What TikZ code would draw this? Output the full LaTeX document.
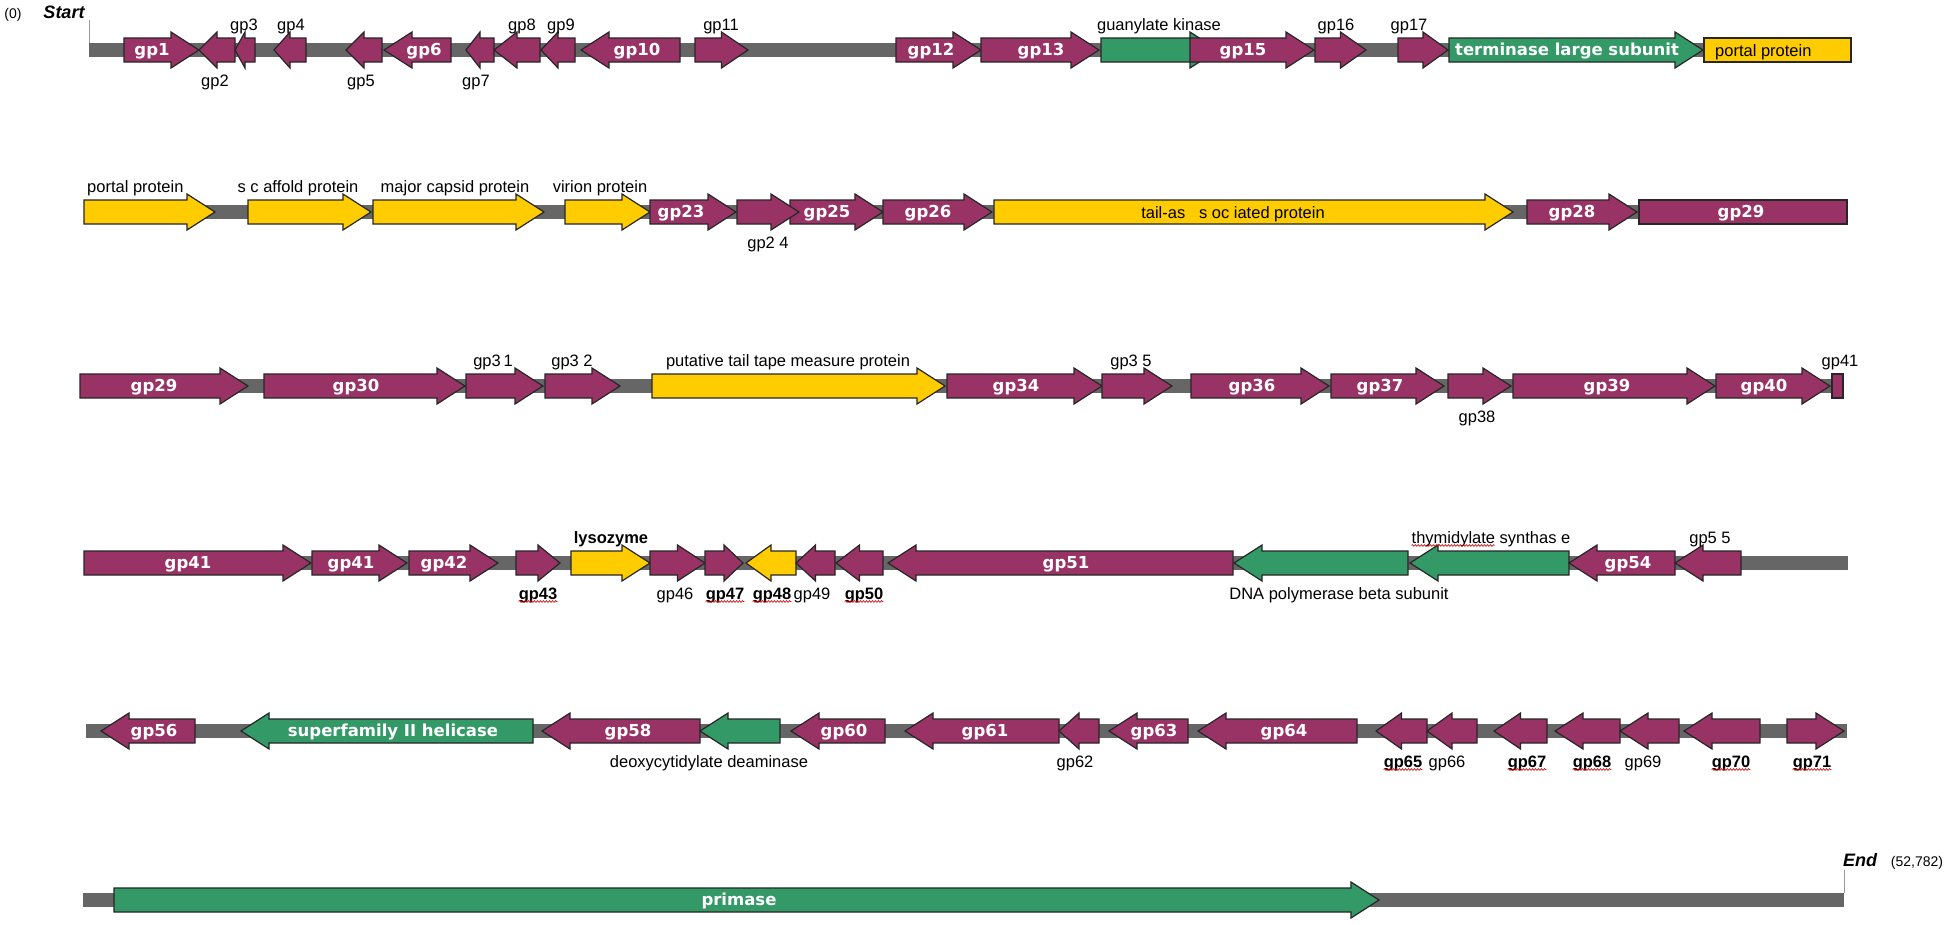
\documentclass[tikz,border=0pt]{standalone}
\usepackage{fontspec}
\setmainfont{Liberation Sans}
\newfontfamily\dvfont{DejaVu Sans}
\usetikzlibrary{decorations.pathmorphing}
\definecolor{gpur}{HTML}{993366}
\definecolor{ggrn}{HTML}{339966}
\definecolor{gyel}{HTML}{FFCC00}
\definecolor{gbarc}{HTML}{666666}
\newcommand\wfont{\dvfont\bfseries\fontsize{16.5}{18}\selectfont}
\newcommand\nfont{\fontsize{16.5}{18}\selectfont}
\newcommand\bbfont{\bfseries\fontsize{16.5}{18}\selectfont}
\tikzset{
  gene/.style={draw=black!85,line width=1.2pt,line join=miter},
  wlab/.style={anchor=base,text=white,font=\wfont,inner sep=0pt},
  blab/.style={font=\nfont,inner sep=0pt},
  bblab/.style={font=\bbfont,inner sep=0pt},
  squig/.style={draw=red!80!black,line width=0.6pt,decorate,decoration={snake,amplitude=0.9pt,segment length=3pt}},
  tick/.style={draw=black!40,line width=1pt}
}
\newcommand\fwd[3]{%
  \pgfmathsetmacro\hdl{min(28,0.5*(#2-#1))}%
  \pgfmathsetmacro\hb{#2-\hdl}%
  \filldraw[gene,fill=#3] (#1,\ry-12) -- (\hb,\ry-12) -- (\hb,\ry-18) -- (#2,\ry) -- (\hb,\ry+18) -- (\hb,\ry+12) -- (#1,\ry+12) -- cycle;}
\newcommand\rev[3]{%
  \pgfmathsetmacro\hdl{min(28,0.5*(#2-#1))}%
  \pgfmathsetmacro\hb{#1+\hdl}%
  \filldraw[gene,fill=#3] (#2,\ry-12) -- (\hb,\ry-12) -- (\hb,\ry-18) -- (#1,\ry) -- (\hb,\ry+18) -- (\hb,\ry+12) -- (#2,\ry+12) -- cycle;}
\newcommand\grect[3]{\filldraw[gene,fill=#3] (#1,\ry-12) rectangle (#2,\ry+12);}
\newcommand\bbar[2]{\fill[gbarc] (#1,\ry-7) rectangle (#2,\ry+7);}
\newcommand\labin[3]{\node[wlab] (#1) at (#2,\ry+5.5) {#3};}
\newcommand\labab[3]{\node[blab,anchor=base] (#1) at (#2,\ry-20) {#3};}
\newcommand\labbe[3]{\node[blab,anchor=base] (#1) at (#2,\ry+36) {#3};}
\newcommand\labbb[3]{\node[bblab,anchor=base] (#1) at (#2,\ry+36) {#3};
  \draw[squig] ([yshift=-2.5pt]#1.base west) -- ([yshift=-2.5pt]#1.base east);}
\begin{document}
\begin{tikzpicture}[x=1pt,y=-1pt]
\useasboundingbox (0,0) rectangle (1950,924);
\fill[white] (0,0) rectangle (1950,924);
% ---------- start
\node[font=\fontsize{14}{16}\selectfont,anchor=base,inner sep=0pt] (zero) at (13,18) {(0)};
\node[font=\bfseries\itshape\fontsize{18}{20}\selectfont,anchor=base,inner sep=0pt] (start) at (64,18) {Start};
\coordinate (st1) at (89,20); \coordinate (st2) at (89,43);
\draw[tick] (st1) -- (st2);
% ---------- row 1
\def\ry{50}
\bbar{89}{1851}
\fwd{124}{199}{gpur} \labin{n1}{152}{gp1}
\rev{199}{235}{gpur} \labbe{n2}{215}{gp2}
\rev{235}{255}{gpur} \labab{n3}{244}{gp3}
\rev{274}{306}{gpur} \labab{n4}{291}{gp4}
\rev{346}{382}{gpur} \labbe{n5}{361}{gp5}
\rev{384}{451}{gpur} \labin{n6}{424}{gp6}
\rev{466}{494}{gpur} \labbe{n7}{476}{gp7}
\rev{494}{540}{gpur} \labab{n8}{522}{gp8}
\rev{541}{575}{gpur} \labab{n9}{561}{gp9}
\rev{581}{680}{gpur} \labin{n10}{637}{gp10}
\fwd{695}{748}{gpur} \labab{n11}{721}{gp11}
\fwd{896}{981}{gpur} \labin{n12}{931}{gp12}
\fwd{981}{1099}{gpur} \labin{n13}{1041}{gp13}
\fwd{1101}{1218}{ggrn} \labab{ngk}{1159}{guanylate kinase}
\fwd{1190}{1314}{gpur} \labin{n15}{1243}{gp15}
\fwd{1315}{1366}{gpur} \labab{n16}{1336}{gp16}
\fwd{1398}{1448}{gpur} \labab{n17}{1409}{gp17}
\fwd{1449}{1703}{ggrn} \labin{nter}{1567}{terminase large subunit}
\grect{1704}{1851}{gyel}
\node[blab,anchor=base west] (npp1) at (1715,\ry+6) {portal protein};
% ---------- row 2
\def\ry{212}
\bbar{84}{1847}
\fwd{84}{215}{gyel}
\node[blab,anchor=base west] (npp2) at (87,\ry-20) {portal protein};
\fwd{248}{371}{gyel} \labab{nsc}{298}{s c affold protein}
\fwd{373}{544}{gyel} \labab{nmc}{455}{major capsid protein}
\fwd{565}{650}{gyel} \labab{nvp}{600}{virion protein}
\fwd{650}{736}{gpur} \labin{n23}{681}{gp23}
\fwd{790}{883}{gpur} \labin{n25}{827}{gp25}
\fwd{737}{799}{gpur} \labbe{n24}{768}{gp2 4}
\fwd{883}{992}{gpur} \labin{n26}{928}{gp26}
\fwd{994}{1513}{gyel}
\node[blab,anchor=base] (ntail) at (1233,\ry+6) {tail-as~~~s oc iated protein};
\fwd{1527}{1637}{gpur} \labin{n28}{1572}{gp28}
\grect{1639}{1847}{gpur} \labin{n29a}{1741}{gp29}
% ---------- row 3
\def\ry{386}
\bbar{80}{1843}
\fwd{80}{248}{gpur} \labin{n29b}{154}{gp29}
\fwd{264}{465}{gpur} \labin{n30}{356}{gp30}
\fwd{466}{543}{gpur} \labab{n31}{493}{gp3\,1}
\fwd{545}{620}{gpur} \labab{n32}{572}{gp3 2}
\fwd{652}{945}{gyel} \labab{nttm}{788}{putative tail tape measure protein}
\fwd{947}{1102}{gpur} \labin{n34}{1016}{gp34}
\fwd{1102}{1172}{gpur} \labab{n35}{1131}{gp3 5}
\fwd{1191}{1329}{gpur} \labin{n36}{1252}{gp36}
\fwd{1331}{1444}{gpur} \labin{n37}{1380}{gp37}
\fwd{1448}{1511}{gpur} \labbe{n38}{1477}{gp38}
\fwd{1513}{1715}{gpur} \labin{n39}{1607}{gp39}
\fwd{1716}{1830}{gpur} \labin{n40}{1764}{gp40}
\grect{1832}{1843}{gpur} \labab{n41a}{1840}{gp41}
% ---------- row 4
\def\ry{563}
\bbar{84}{1848}
\fwd{84}{311}{gpur} \labin{n41b}{188}{gp41}
\fwd{312}{407}{gpur} \labin{n41c}{351}{gp41}
\fwd{409}{498}{gpur} \labin{n42}{444}{gp42}
\fwd{516}{560}{gpur} \labbb{n43}{538}{gp43}
\fwd{571}{650}{gyel}
\node[bblab,anchor=base] (nlys) at (611,\ry-20) {lysozyme};
\fwd{650}{705}{gpur} \labbe{n46}{675}{gp46}
\fwd{705}{743}{gpur} \labbb{n47}{725}{gp47}
\rev{746}{796}{gyel} \labbb{n48}{772}{gp48}
\rev{796}{835}{gpur} \labbe{n49}{812}{gp49}
\rev{836}{883}{gpur} \labbb{n50}{864}{gp50}
\rev{888}{1233}{gpur} \labin{n51}{1066}{gp51}
\rev{1234}{1408}{ggrn} \labbe{ndna}{1339}{DNA polymerase beta subunit}
\rev{1410}{1569}{ggrn} \labab{nts}{1491}{thymidylate synthas e}
\draw[squig] ([yshift=-2.5pt]nts.base west) -- ++(83,0);
\rev{1569}{1675}{gpur} \labin{n54}{1628}{gp54}
\rev{1675}{1741}{gpur} \labab{n55}{1710}{gp5 5}
% ---------- row 5
\def\ry{731}
\bbar{86}{1847}
\rev{101}{195}{gpur} \labin{n56}{154}{gp56}
\rev{241}{533}{ggrn} \labin{nhel}{393}{superfamily II helicase}
\rev{542}{700}{gpur} \labin{n58}{628}{gp58}
\rev{700}{780}{ggrn} \labbe{ndeo}{709}{deoxycytidylate deaminase}
\rev{791}{885}{gpur} \labin{n60}{844}{gp60}
\rev{905}{1059}{gpur} \labin{n61}{985}{gp61}
\rev{1059}{1099}{gpur} \labbe{n62}{1075}{gp62}
\rev{1109}{1188}{gpur} \labin{n63}{1154}{gp63}
\rev{1198}{1357}{gpur} \labin{n64}{1284}{gp64}
\rev{1376}{1427}{gpur} \labbb{n65}{1403}{gp65}
\rev{1427}{1477}{gpur} \labbe{n66}{1447}{gp66}
\rev{1494}{1547}{gpur} \labbb{n67}{1527}{gp67}
\rev{1555}{1620}{gpur} \labbb{n68}{1592}{gp68}
\rev{1620}{1679}{gpur} \labbe{n69}{1643}{gp69}
\rev{1684}{1760}{gpur} \labbb{n70}{1731}{gp70}
\fwd{1787}{1844}{gpur} \labbb{n71}{1812}{gp71}
% ---------- row 6
\def\ry{900}
\bbar{83}{1844}
\fwd{114}{1379}{ggrn} \labin{npri}{739}{primase}
\coordinate (en1) at (1844,870); \coordinate (en2) at (1844,893);
\draw[tick] (en1) -- (en2);
\node[font=\bfseries\itshape\fontsize{18}{20}\selectfont,anchor=base,inner sep=0pt] (end) at (1860,866) {End};
\node[font=\fontsize{14}{16}\selectfont,anchor=base,inner sep=0pt] (len) at (1917,866) {(52,782)};
\end{tikzpicture}
\end{document}
